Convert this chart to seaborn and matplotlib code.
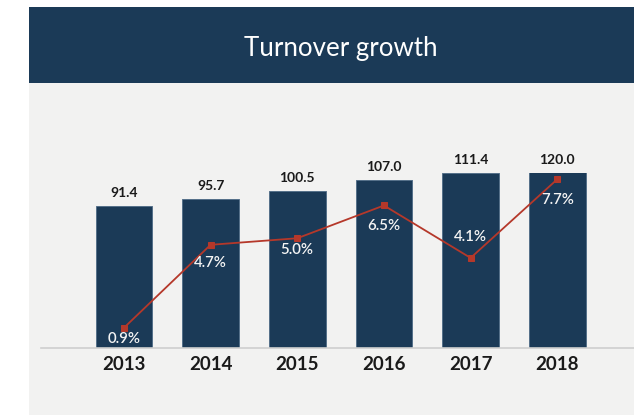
import numpy as np
import pandas as pd
import matplotlib
matplotlib.use("Agg")
import matplotlib.pyplot as plt
import seaborn as sns
from matplotlib.patches import Rectangle

years = ["2013", "2014", "2015", "2016", "2017", "2018"]
turnover = [91.4, 95.7, 100.5, 107.0, 111.4, 120.0]
growth_pct = [0.9, 4.7, 5.0, 6.5, 4.1, 7.7]
title = "Turnover growth"

# style
NAVY = "#1b3a57"
RED = "#b5382a"
BG = "#f2f2f1"
pct_label_offsets_px = [-11, -18, -12, -21, 21, -21]

sns.set_theme(style="white")
plt.rcParams["font.family"] = ["Lato", "DejaVu Sans"]

W, H = 634, 415
fig = plt.figure(figsize=(W / 100, H / 100), dpi=100, facecolor="white")

# background panels
fig.patches.append(Rectangle((28.5 / W, 0), 1 - 28.5 / W, 1 - 82.7 / H,
                             transform=fig.transFigure, facecolor=BG, edgecolor="none", zorder=-2))
fig.patches.append(Rectangle((28.5 / W, 1 - 82.7 / H), 1 - 28.5 / W, (82.7 - 7) / H,
                             transform=fig.transFigure, facecolor=NAVY, edgecolor="none", zorder=-2))
fig.text(341 / W, 1 - 56 / H, title, ha="center", va="baseline", color="white",
         fontsize=18.6, family=["Lato", "DejaVu Sans"])

ax = fig.add_axes([40.7 / W, 1 - 347.5 / H, 1 - 40.7 / W, (347.5 - 172.7) / H])
ax.set_zorder(1)
ax.set_facecolor("none")

df = pd.DataFrame({"year": years, "turnover": turnover, "growth": growth_pct})
sns.barplot(data=df, x="year", y="turnover", color=NAVY, width=0.654, ax=ax,
            saturation=1, edgecolor="#55708a", linewidth=0.7)
ax.set_ylim(6.5, 111.4)
ax.set_xlim(-0.96, 5.885)
for i, v in enumerate(turnover):
    ax.annotate(f"{v:.1f}", (i, min(v, 111.4)), xytext=(0, 9.4), textcoords="offset points",
                ha="center", va="center", fontsize=10, fontweight="bold", color="#1a1a1a",
                annotation_clip=False)

ax.set_xlabel("")
ax.set_ylabel("")
ax.set_yticks([])
ax.tick_params(axis="x", length=0, pad=6, labelsize=13.5)
for lab in ax.get_xticklabels():
    lab.set_fontweight("bold")
    lab.set_color("#1a1a1a")
for s in ["top", "left", "right"]:
    ax.spines[s].set_visible(False)
ax.spines["bottom"].set_color("#cfcfcf")
ax.spines["bottom"].set_linewidth(1.2)

ax2 = ax.twinx()
ax2.set_zorder(2)
ax2.set_facecolor("none")
sns.lineplot(x=np.arange(len(years)), y=growth_pct, ax=ax2, color=RED, marker="s",
             markersize=5, markeredgecolor=RED, linewidth=1.3)
ax2.set_ylim(0, 8.0)
ax2.set_yticks([])
ax2.set_ylabel("")
for s in ["top", "left", "right", "bottom"]:
    ax2.spines[s].set_visible(False)
for i, p in enumerate(growth_pct):
    ax2.annotate(f"{p:.1f}%", (i, p), xytext=(0, pct_label_offsets_px[i] * 0.72),
                 textcoords="offset points", ha="center", va="center", fontsize=10.8,
                 fontweight="semibold", color="#f4f4f4", annotation_clip=False)

fig.savefig("out.png", dpi=100, facecolor="white")
